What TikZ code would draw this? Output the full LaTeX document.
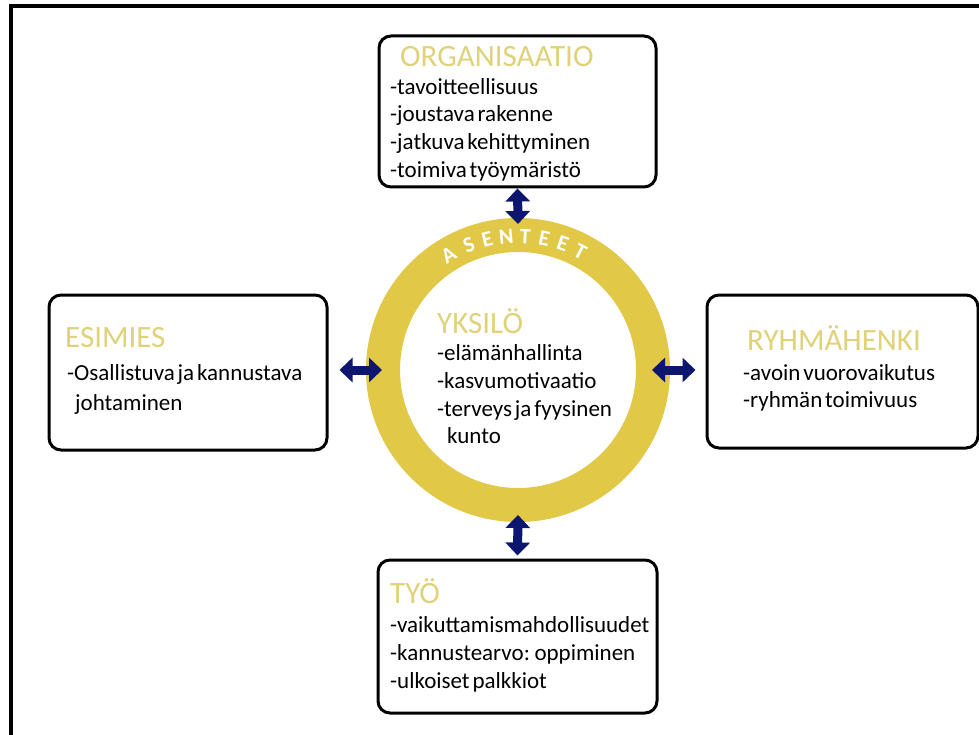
\documentclass[tikz,border=0pt]{standalone}
\usepackage{fontspec}
\setmainfont{Carlito}[WordSpace=0.55]
\usetikzlibrary{arrows.meta,calc}
\definecolor{gold}{RGB}{225,200,70}
\definecolor{titlec}{RGB}{224,210,120}
\definecolor{navy}{RGB}{12,22,110}
\tikzset{
  box/.style={draw=black, line width=3pt, rounded corners=12pt, fill=white, inner sep=0pt},
  biarrow/.style={draw=navy, line width=9pt, {Triangle[width=24pt,length=13pt]}-{Triangle[width=24pt,length=13pt]}},
  txt/.style={anchor=base west, inner sep=0pt, font=\fontsize{23}{28}\selectfont},
  ttl/.style={anchor=base west, inner sep=0pt, text=titlec, font=\fontsize{31}{32}\selectfont},
  ringletter/.style={inner sep=0pt, text=white, font=\bfseries\fontsize{22}{22}\selectfont}
}
\begin{document}
\begin{tikzpicture}[x=1pt,y=-1pt]
\useasboundingbox (0,0) rectangle (979,735);
\fill[white] (0,0) rectangle (979,735);
% frame
\coordinate (fa) at (11,737);
\coordinate (fb) at (11,6);
\coordinate (fc) at (981,6);
\draw[line width=3.5pt] (fa) -- (fb) -- (fc);
% boxes
\node[box, minimum width=277pt, minimum height=151pt] (org) at (517.5,111.5) {};
\node[box, minimum width=278pt, minimum height=155pt] (esi) at (188,372.5) {};
\node[box, minimum width=271pt, minimum height=153pt] (ryh) at (842.5,371.5) {};
\node[box, minimum width=279pt, minimum height=153pt] (tyo) at (517.5,636.5) {};
% ring
\node[circle, draw=gold, line width=34pt, minimum size=270pt, inner sep=0pt] (ring) at (518,370) {};
\foreach \l/\a [count=\i] in {A/121.2,S/111.5,E/103.3,N/95.1,T/86.9,E/78.7,E/70.5,T/62.3}
  \node[ringletter, rotate={\a-90}] (as\i) at ([shift={(\a:134pt)}]ring.center) {\l};
% arrows
\draw[biarrow] (org.south) -- ([yshift=-6pt]ring.north);
\draw[biarrow] ([xshift=11pt]esi.east |- ring.west) -- ([xshift=16pt]ring.west);
\draw[biarrow] ([xshift=-18pt]ring.east) -- ([xshift=-10pt]ryh.west |- ring.east);
\draw[biarrow] ([yshift=7pt]ring.south) -- ([yshift=3pt]tyo.north);
% texts top
\node[ttl] (t1) at (400,67) {ORGANISAATIO};
\node[txt] (o1) at (390,95) {-tavoitteellisuus};
\node[txt] (o2) at (390,122) {-joustava rakenne};
\node[txt] (o3) at (390,150) {-jatkuva kehittyminen};
\node[txt] (o4) at (390,178) {-toimiva työymäristö};
% left
\node[ttl] (t2) at (65,347) {ESIMIES};
\node[txt] (e1) at (67,380) {-Osallistuva ja kannustava};
\node[txt] (e2) at (75,410) {johtaminen};
% right
\node[ttl] (t3) at (747,350) {RYHMÄHENKI};
\node[txt] (r1) at (743,380) {-avoin vuorovaikutus};
\node[txt] (r2) at (743,407) {-ryhmän toimivuus};
% center
\node[ttl] (t4) at (437,333) {YKSILÖ};
\node[txt] (y1) at (437,360) {-elämänhallinta};
\node[txt] (y2) at (437,388) {-kasvumotivaatio};
\node[txt] (y3) at (437,416) {-terveys ja fyysinen};
\node[txt] (y4) at (447,443) {kunto};
% bottom
\node[ttl] (t5) at (390,603) {TYÖ};
\node[txt] (b1) at (390,632) {-vaikuttamismahdollisuudet};
\node[txt] (b2) at (390,660) {-kannustearvo: oppiminen};
\node[txt] (b3) at (390,688) {-ulkoiset palkkiot};
\end{tikzpicture}
\end{document}
